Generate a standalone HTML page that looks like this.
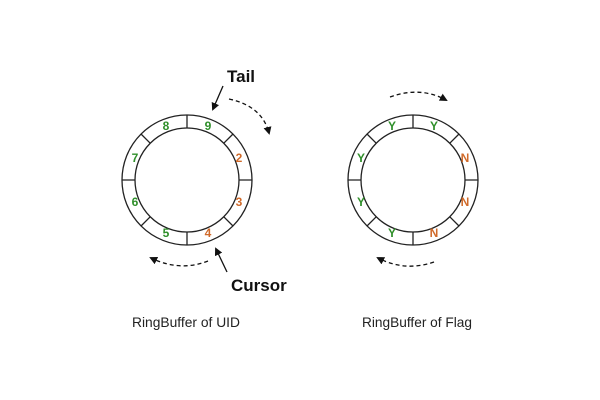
<!DOCTYPE html>
<html><head><meta charset="utf-8"><style>html,body{margin:0;padding:0;background:#fff}svg{display:block}</style></head><body>
<svg width="600" height="400" viewBox="0 0 600 400" xmlns="http://www.w3.org/2000/svg">
<defs>
<marker id="ah" markerWidth="8" markerHeight="8" refX="6" refY="4" orient="auto" markerUnits="userSpaceOnUse"><path d="M0,0 L8,4 L0,8 Z" fill="#111"/></marker>
</defs>
<rect width="600" height="400" fill="#fff"/>
<g fill="none" stroke="#222" stroke-width="1.3">
<circle cx="187" cy="180" r="65"/><circle cx="187" cy="180" r="52"/>
<path d="M187,115V128M187,232V245M122,180H135M239,180H252M223.8,143.2L233,134M150.2,143.2L141,134M223.8,216.8L233,226M150.2,216.8L141,226"/>
<circle cx="413" cy="180" r="65"/><circle cx="413" cy="180" r="52"/>
<path d="M413,115V128M413,232V245M348,180H361M465,180H478M449.8,143.2L459,134M376.2,143.2L367,134M449.8,216.8L459,226M376.2,216.8L367,226"/>
</g>
<g font-family="Liberation Sans, sans-serif" font-weight="bold" font-size="12" text-anchor="middle" dominant-baseline="central">
<g fill="#2f8f2a"><text x="208" y="126">9</text><text x="166" y="126">8</text><text x="135" y="158">7</text><text x="135" y="202">6</text><text x="166" y="233">5</text></g>
<g fill="#d06a2a"><text x="239" y="158">2</text><text x="239" y="202">3</text><text x="208" y="233">4</text></g>
<g fill="#2f8f2a"><text x="434" y="126">Y</text><text x="392" y="126">Y</text><text x="361" y="158">Y</text><text x="361" y="202">Y</text><text x="392" y="233">Y</text></g>
<g fill="#d06a2a"><text x="465" y="158">N</text><text x="465" y="202">N</text><text x="434" y="233">N</text></g>
</g>
<g stroke="#111" stroke-width="1.3" fill="none">
<line x1="223" y1="86" x2="213" y2="109" marker-end="url(#ah)"/>
<line x1="227" y1="272" x2="216" y2="249" marker-end="url(#ah)"/>
<path d="M229,99 Q262,106 269,133" stroke-dasharray="4,3" marker-end="url(#ah)"/>
<path d="M208,261 Q180,272 151,258" stroke-dasharray="4,3" marker-end="url(#ah)"/>
<path d="M390,97 Q420,86 446,100" stroke-dasharray="4,3" marker-end="url(#ah)"/>
<path d="M434,262 Q405,272 378,258" stroke-dasharray="4,3" marker-end="url(#ah)"/>
</g>
<g font-family="Liberation Sans, sans-serif" font-weight="bold" font-size="17" fill="#111">
<text x="227" y="82">Tail</text><text x="231" y="291">Cursor</text>
</g>
<g font-family="Liberation Sans, sans-serif" font-size="14" fill="#222">
<text x="132" y="327" textLength="108" lengthAdjust="spacingAndGlyphs">RingBuffer of UID</text>
<text x="362" y="327" textLength="110" lengthAdjust="spacingAndGlyphs">RingBuffer of Flag</text>
</g>
</svg>
</body></html>
